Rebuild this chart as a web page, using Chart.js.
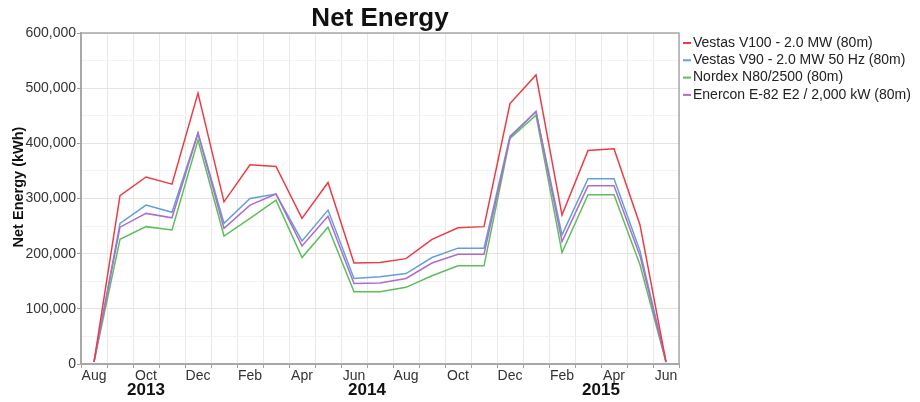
<!DOCTYPE html>
<html>
<head>
<meta charset="utf-8">
<script src="https://cdn.jsdelivr.net/npm/chart.js@4/dist/chart.umd.min.js"></script>
<style>
html,body{margin:0;padding:0;background:#fff;}
#wrap{width:920px;height:402px;position:relative;}
</style>
</head>
<body>
<div id="wrap"><canvas id="c" width="920" height="402"></canvas></div>
<script>
// ---- data ----
const months = ['Aug 2013','Sep 2013','Oct 2013','Nov 2013','Dec 2013','Jan 2014','Feb 2014','Mar 2014','Apr 2014','May 2014','Jun 2014','Jul 2014','Aug 2014','Sep 2014','Oct 2014','Nov 2014','Dec 2014','Jan 2015','Feb 2015','Mar 2015','Apr 2015','May 2015','Jun 2015'];
const tickLabels = ['Aug','','Oct','','Dec','','Feb','','Apr','','Jun','','Aug','','Oct','','Dec','','Feb','','Apr','','Jun'];
const yearLabels = ['2013','2014','2015'];
const yearFirstIdx = [0,5,17];
const yearLastIdx = [4,16,22];
const yAxisTitle = 'Net Energy (kWh)';
const seriesNames = ['Vestas V100 - 2.0 MW (80m)','Vestas V90 - 2.0 MW 50 Hz (80m)','Nordex N80/2500 (80m)','Enercon E-82 E2 / 2,000 kW (80m)'];
const vestasV100 = [4000,305000,339000,326000,491000,294000,361000,358000,264000,329000,183000,184000,191000,226000,247000,249000,472000,524000,270000,387000,390000,252000,4000];
const vestasV90  = [4000,255000,288000,275000,419000,255000,300000,308000,223000,279000,155000,158000,164000,193000,210000,210000,413000,457000,234000,336000,336000,205000,4000];
const nordexN80  = [4000,226000,249000,243000,406000,232000,264000,297000,193000,248000,131000,131000,139000,160000,178000,178000,409000,451000,202000,307000,307000,180000,3000];
const enerconE82 = [4000,248000,273000,265000,418000,246000,288000,308000,214000,268000,146000,147000,155000,183000,199000,199000,411000,458000,222000,323000,323000,196000,4000];

const colors = ['#ee3b43','#62a0da','#5cbf5c','#b06cca'];
const FONT = "'Liberation Sans', Arial, sans-serif";

const yearPlugin = {
  id:'yearLabels',
  afterDraw(chart){
    const ctx = chart.ctx, xs = chart.scales.x, ca = chart.chartArea;
    ctx.save();
    // frame
    ctx.strokeStyle = '#a8a8a8';
    ctx.lineWidth = 1.5;
    ctx.strokeRect(ca.left, ca.top, ca.right-ca.left, ca.bottom-ca.top);
    // year labels
    ctx.fillStyle = '#111';
    ctx.font = 'bold 17px ' + FONT;
    ctx.textAlign = 'center';
    ctx.textBaseline = 'middle';
    for (let i=0;i<yearLabels.length;i++){
      const c = ((yearFirstIdx[i]-0.5)+(yearLastIdx[i]+0.5))/2;
      ctx.fillText(yearLabels[i], xs.getPixelForValue(c), 390.5);
    }
    // y axis title
    ctx.save();
    ctx.translate(18.5, 187);
    ctx.rotate(-Math.PI/2);
    ctx.font = 'bold 14.5px ' + FONT;
    ctx.fillText(yAxisTitle, 0, 0);
    ctx.restore();
    // legend
    ctx.font = '14px ' + FONT;
    ctx.textAlign = 'left';
    chart.data.datasets.forEach((ds,i)=>{
      const y = 43 + i*17.3;
      ctx.strokeStyle = ds.borderColor;
      ctx.lineWidth = 2;
      ctx.beginPath(); ctx.moveTo(683,y); ctx.lineTo(691,y); ctx.stroke();
      ctx.fillStyle = '#222';
      ctx.fillText(ds.label, 693, y);
    });
    ctx.restore();
  }
};

new Chart(document.getElementById('c'), {
  type:'line',
  data:{
    labels: months,
    datasets:[
      {label:seriesNames[0], data:vestasV100, borderColor:colors[0], order:0},
      {label:seriesNames[1], data:vestasV90, borderColor:colors[1], order:2},
      {label:seriesNames[2], data:nordexN80, borderColor:colors[2], order:3},
      {label:seriesNames[3], data:enerconE82, borderColor:colors[3], order:1}
    ].map(d=>Object.assign(d,{borderWidth:1.5,pointRadius:0,tension:0,fill:false,backgroundColor:d.borderColor}))
  },
  options:{
    responsive:false,
    animation:false,
    layout:{padding:{left:0,right:241,top:0,bottom:0}},
    plugins:{
      legend:{display:false},
      tooltip:{enabled:false},
      title:{display:true,text:'Net Energy',fullSize:false,color:'#111',
        font:{family:FONT,size:26,weight:'bold',lineHeight:1.0},padding:{top:6,bottom:1}}
    },
    scales:{
      x:{
        type:'category',
        offset:true,
        grid:{offset:true,color:'#e8e8e8',tickColor:'#a0a0a0',tickLength:4,drawTicks:true},
        border:{color:'#a8a8a8',width:2},
        ticks:{autoSkip:false,maxRotation:0,padding:0,color:'#333',font:{family:FONT,size:14},
          callback:(v,i)=>tickLabels[i]},
        afterFit(s){ s.height = 38; }
      },
      y:{
        min:0,max:600000,
        grid:{color:(c)=> (c.tick && c.tick.value%100000===0)?'#e4e4e4':'#f3f3f3',
              tickColor:(c)=> (c.tick && c.tick.value%100000===0)?'#a0a0a0':'rgba(0,0,0,0)',tickLength:4},
        border:{color:'#a8a8a8',width:2},
        ticks:{stepSize:50000,padding:1,color:'#333',font:{family:FONT,size:14},
          callback:(v)=> v%100000===0 ? v.toLocaleString('en-US') : ''},
        title:{display:false},
        afterFit(s){ s.width = 81; }
      }
    }
  },
  plugins:[yearPlugin]
});
</script>
</body>
</html>
